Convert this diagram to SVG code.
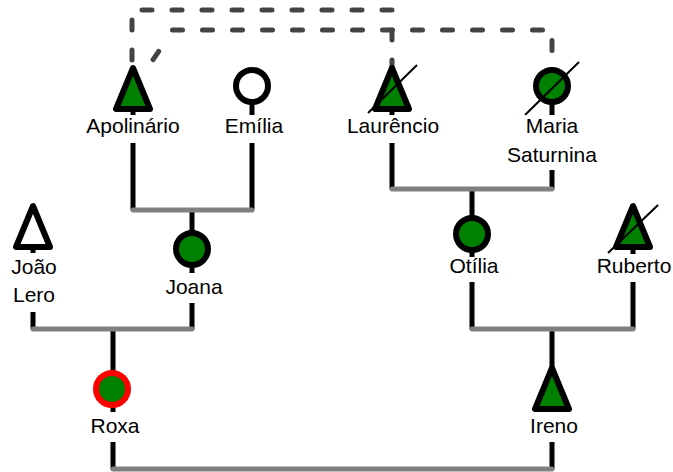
<svg xmlns="http://www.w3.org/2000/svg" width="673" height="472" viewBox="0 0 673 472">
<style>
.ln{stroke:#000;stroke-width:5;fill:none}
.bar{stroke:#808080;stroke-width:5;stroke-linecap:round;fill:none}
.rel{stroke:#444;stroke-width:5;stroke-dasharray:10 20;stroke-linecap:round;stroke-linejoin:round;fill:none}
.sym{stroke:#000;stroke-width:6;stroke-linejoin:round}
.g{fill:#008000}
.w{fill:#fff}
.red{stroke:#ff0000}
.dead{stroke:#000;stroke-width:2}
.lbg{fill:#fff}
text{font-family:"Liberation Sans",Arial,Helvetica,sans-serif;font-size:21px;text-anchor:middle;fill:#000}
</style>
<rect width="673" height="472" fill="#fff"/>
<g id="connectors">
  <path class="ln" d="M133 86V210"/>
  <path class="ln" d="M252 86V210"/>
  <path class="ln" d="M192 210V329"/>
  <path class="ln" d="M33 226V329"/>
  <path class="ln" d="M113 329V469"/>
  <path class="ln" d="M392 90V189"/>
  <path class="ln" d="M552 86V189"/>
  <path class="ln" d="M472 189V329"/>
  <path class="ln" d="M633 226V329"/>
  <path class="ln" d="M552 329V469"/>
  <path class="bar" d="M133 210H252"/>
  <path class="bar" d="M33 329H192"/>
  <path class="bar" d="M392 189H552"/>
  <path class="bar" d="M472 329H633"/>
  <path class="bar" d="M113 469H552"/>
  <path class="rel" d="M132 60V10H392V68"/>
  <path class="rel" d="M153.1 59.6L167 38.9M172.5 30H552V72"/>
</g>
<g id="apolinario">
  <polygon class="sym g" points="133,68 116,109 150,109"/>
  <rect class="lbg" x="88" y="115" width="90" height="28"/>
  <text x="133" y="133">Apolinário</text>
</g>
<g id="emilia">
  <circle class="sym w" cx="252" cy="86" r="16"/>
  <rect class="lbg" x="226" y="115" width="54" height="28"/>
  <text x="254" y="133">Emília</text>
</g>
<g id="laurencio">
  <polygon class="sym g" points="392,68 375,109 409,109"/>
  <line class="dead" x1="368" y1="113" x2="417" y2="65"/>
  <rect class="lbg" x="346" y="115" width="92" height="28"/>
  <text x="393" y="133">Laurêncio</text>
</g>
<g id="maria-saturnina">
  <circle class="sym g" cx="552" cy="86" r="16"/>
  <line class="dead" x1="525" y1="115" x2="579" y2="62"/>
  <rect class="lbg" x="508" y="115" width="90" height="55"/>
  <text x="552" y="133">Maria</text>
  <text x="552" y="162">Saturnina</text>
</g>
<g id="joao-lero">
  <polygon class="sym w" points="33,206 16,247 50,247"/>
  <rect class="lbg" x="12" y="253" width="44" height="59"/>
  <text x="34" y="274">João</text>
  <text x="34" y="302">Lero</text>
</g>
<g id="joana">
  <circle class="sym g" cx="192" cy="249" r="16"/>
  <rect class="lbg" x="166" y="273" width="56" height="30"/>
  <text x="194" y="294">Joana</text>
</g>
<g id="otilia">
  <circle class="sym g" cx="472" cy="234" r="16"/>
  <rect class="lbg" x="452" y="257" width="46" height="25"/>
  <text x="474" y="273">Otília</text>
</g>
<g id="ruberto">
  <polygon class="sym g" points="633,206 616,247 650,247"/>
  <line class="dead" x1="608" y1="253" x2="658" y2="205"/>
  <rect class="lbg" x="598" y="254" width="72" height="28"/>
  <text x="634" y="273">Ruberto</text>
</g>
<g id="roxa">
  <circle class="sym g red" cx="112" cy="389" r="16"/>
  <rect class="lbg" x="92" y="412" width="48" height="30"/>
  <text x="115" y="433">Roxa</text>
</g>
<g id="ireno">
  <polygon class="sym g" points="552,368 535,409 569,409"/>
  <rect class="lbg" x="532" y="412" width="46" height="30"/>
  <text x="554" y="433">Ireno</text>
</g>
</svg>
